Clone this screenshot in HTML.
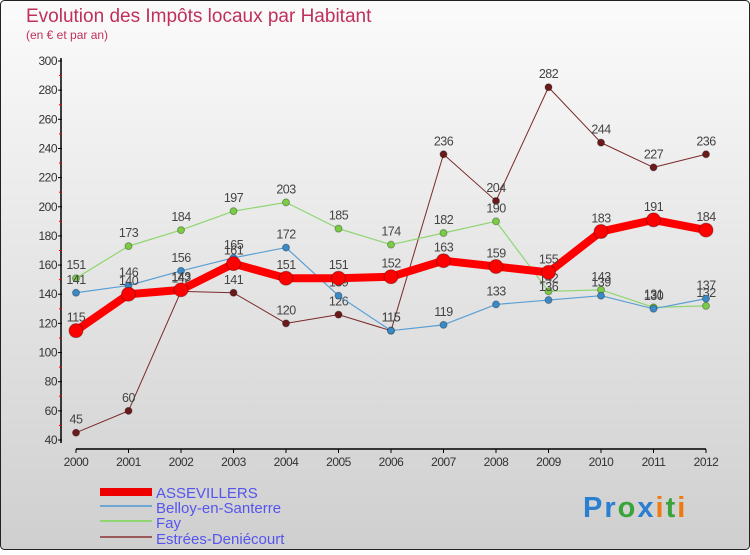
<!DOCTYPE html>
<html><head><meta charset="utf-8"><style>
body{margin:0;width:750px;height:550px;overflow:hidden;font-family:"Liberation Sans",sans-serif}
svg text{font-family:"Liberation Sans",sans-serif}
</style></head><body>
<svg id="c" width="750" height="550">
<defs><linearGradient id="bg" x1="0" y1="0" x2="0" y2="1"><stop offset="0" stop-color="#fbfbfb"/><stop offset="1" stop-color="#cfcfcf"/></linearGradient></defs>
<rect x="0.5" y="0.5" width="749" height="549" rx="4" fill="url(#bg)" stroke="#222"/>
<text x="26" y="22" font-size="19" fill="#c0305a">Evolution des Impôts locaux par Habitant</text>
<text x="26" y="39" font-size="12" fill="#c0305a">(en € et par an)</text>
<g id="axes"></g><g id="series"></g>
<g>
<rect x="100" y="488" width="52" height="8" fill="#e00"/>
<text x="156" y="498" font-size="15" fill="#5555ee">ASSEVILLERS</text>
<rect x="100" y="505" width="52" height="2" fill="#6fa7d4"/>
<text x="156" y="513" font-size="15" fill="#5555ee">Belloy-en-Santerre</text>
<rect x="100" y="520" width="52" height="2" fill="#8fd670"/>
<text x="156" y="528" font-size="15" fill="#5555ee">Fay</text>
<rect x="100" y="536" width="52" height="2" fill="#9a5a5a"/>
<text x="156" y="544" font-size="15" fill="#5555ee">Estrées-Deniécourt</text>
</g>
<text x="583" y="517" font-size="29" font-weight="bold" letter-spacing="2"><tspan fill="#2a7fd0">Pr</tspan><tspan fill="#3aa33a">o</tspan><tspan fill="#2a7fd0">x</tspan><tspan fill="#f07a10">i</tspan><tspan fill="#3aa33a">t</tspan><tspan fill="#f07a10">i</tspan></text>
</svg>
<script>
const years=["2000","2001","2002","2003","2004","2005","2006","2007","2008","2009","2010","2011","2012"];
const yTicks=[40,60,80,100,120,140,160,180,200,220,240,260,280,300];
const assevillers=[115,140,143,161,151,151,152,163,159,155,183,191,184];
const belloy=[141,146,156,165,172,139,115,119,133,136,139,130,137];
const fay=[151,173,184,197,203,185,174,182,190,142,143,131,132];
const estrees=[45,60,142,141,120,126,115,236,204,282,244,227,236];
const NS="http://www.w3.org/2000/svg";
const X=i=>76+i*52.5, Y=v=>440-(v-40)*(379/260);
function mk(t,a,p){const e=document.createElementNS(NS,t);for(const k in a)e.setAttribute(k,a[k]);p.appendChild(e);return e;}
const ax=document.getElementById('axes');
let l=mk('line',{x1:61,y1:58,x2:61,y2:443,stroke:'#000','stroke-width':1.5},ax);

l=mk('line',{x1:76,y1:449,x2:706,y2:449,stroke:'#000','stroke-width':1.5},ax);

yTicks.forEach((v,i)=>{mk('line',{x1:58,x2:62,y1:Y(v),y2:Y(v),stroke:'#000'},ax);
 if(i<yTicks.length-1)mk('line',{x1:59,x2:62,y1:Y(v+10),y2:Y(v+10),stroke:'#e00'},ax);
 const t=mk('text',{x:57,y:Y(v)+4,'font-size':12,'text-anchor':'end',fill:'#333','letter-spacing':'-0.5'},ax);t.textContent=v;
 });
years.forEach((y,i)=>{mk('line',{x1:X(i),x2:X(i),y1:449,y2:453,stroke:'#000'},ax);
 const t=mk('text',{x:X(i),y:466,'font-size':12,'text-anchor':'middle',fill:'#333','letter-spacing':'-0.5'},ax);t.textContent=y;
 });
const sg=document.getElementById('series');
function draw(name,data,col,w,r,pc){const g=mk('g',{},sg);
 
 const p=mk('polyline',{points:data.map((v,i)=>X(i)+','+Y(v)).join(' '),fill:'none',stroke:col,'stroke-width':w,'stroke-linejoin':'round'},g);
 
 data.forEach((v,i)=>{const c=mk('circle',{cx:X(i),cy:Y(v),r:r,fill:pc,stroke:'rgba(0,0,0,0.3)'},g);
  
  const t=mk('text',{x:X(i),y:Y(v)-9,'font-size':12.5,'text-anchor':'middle',fill:'#444','letter-spacing':'-0.5'},g);t.textContent=v;
  });}
draw('estrees',estrees,'#7a2a2a',1,3.5,'#6a1a1a');
draw('fay',fay,'#8fd670',1.2,3.5,'#7acc44');
draw('belloy',belloy,'#5a9fd4',1.2,3.5,'#3a8ac8');
draw('assevillers',assevillers,'#f00',8,7,'#f00');
</script>
</body></html>
